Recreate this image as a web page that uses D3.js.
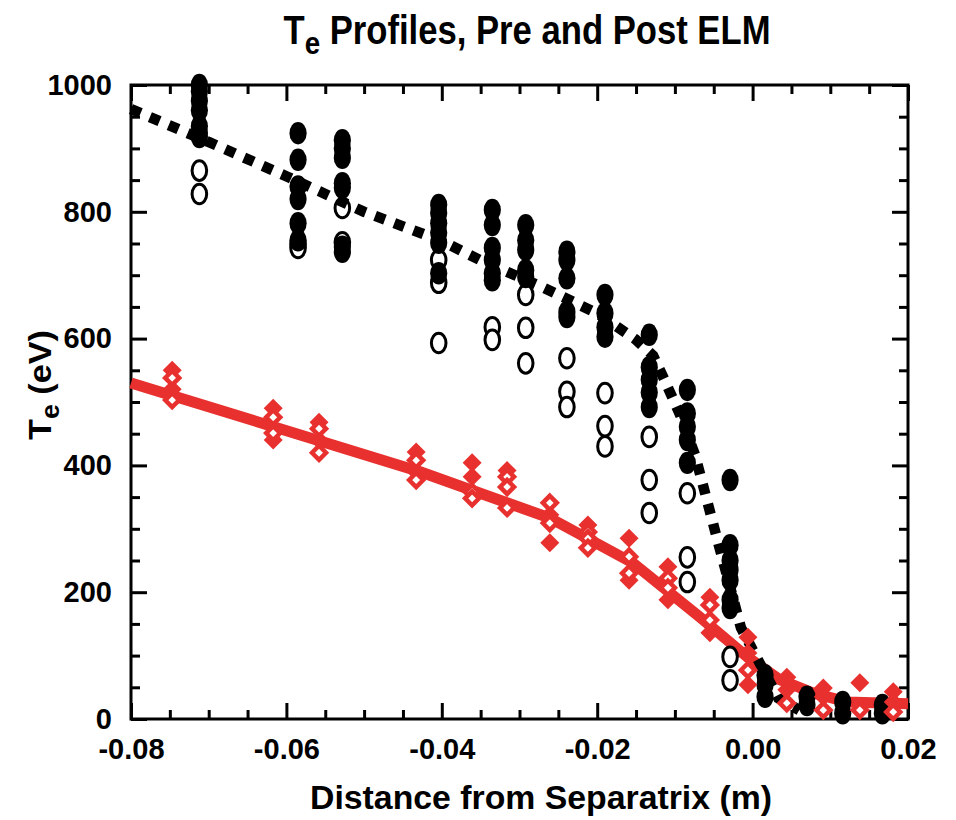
<!DOCTYPE html>
<html><head><meta charset="utf-8">
<script src="https://cdn.jsdelivr.net/npm/d3@7"></script>
<style>body{margin:0;background:#fff}text{font-family:"Liberation Sans",Arial,Helvetica,sans-serif;font-weight:bold}</style>
</head><body>
<svg id="c" width="956" height="820"></svg>
<script>
// ---- data ----
const xTicks = [-0.08,-0.06,-0.04,-0.02,0.00,0.02];
const xTickLabels = ["-0.08","-0.06","-0.04","-0.02","0.00","0.02"];
const yTicks = [0,200,400,600,800,1000];
const yTickLabels = ["0","200","400","600","800","1000"];

// pre-ELM (black) columns
const preX = [-0.0712,-0.0585,-0.0528,-0.0404,-0.0335,-0.0292,-0.0239,-0.0190,-0.0133,-0.0084,-0.0029,0.0016,0.0070,0.0116,0.0167];
const preFilled = [
  [1000,990,975,960,935,925,918],
  [924,882,840,820,782,755],
  [913,900,885,845,838,745,737],
  [811,798,782,767,751,703],
  [803,779,743,724,703,692],
  [779,755,740,708,697],
  [737,724,695,642,634],
  [669,640,618,603],
  [606,555,535,515,492],
  [519,482,461,440,404],
  [377,274,250,235,219,188,175],
  [69,54,35],
  [35,22],
  [27,9],
  [22,9]
];
const preOpen = [
  [865,828],
  [750,743],
  [806,752],
  [724,688,593],
  [618,598],
  [669,617,561],
  [569,516,492],
  [514,462,430],
  [445,377,325],
  [356,255,216],
  [98,61],
  [],[],[],[]
];
// pre-ELM fit (dashed black)
const preFitX = [-0.0800,-0.0698,-0.0598,-0.0500,-0.0400,-0.0351,-0.0274,-0.0200,-0.0151,-0.0128,-0.0115,-0.0093,-0.0074,-0.0048,-0.0015,0.0033,0.0060];
const preFitT = [962,909,855,800,754,724,683,640,599,573,539,479,416,295,144,33,14];

// post-ELM (red) columns
const postX = [-0.0747,-0.0617,-0.0558,-0.0433,-0.0361,-0.0316,-0.0261,-0.0212,-0.0159,-0.0109,-0.0055,-0.0006,0.0044,0.0091,0.0138,0.0181];
const postFilled = [
  [550,520],[490,440],[468,440],[421,390],[404,382],[392],[322,278],[306],[285,219],[240,188],[192,136],[129,104,54],[66,46],[49,35],[57],[43,27]
];
const postOpen = [
  [538,503],[476,451],[458,420],[408,377],[358,348],[382,366,333],[341,309],[295,285,270],[256,230],[222,207],[180,156],[77],[25],[14],[14],[11]
];
// post-ELM fit (solid red)
const postFitX = [-0.0800,-0.0428,-0.0261,-0.0154,-0.0068,-0.0007,0.0035,0.0078,0.0121,0.0200];
const postFitT = [530,390,317,246,161,98,62,41,27,24];

// ---- layout ----
const M = {l:131, t:85, r:908, b:719};
const RED = "#e8312f";
const svg = d3.select("#c");
const x = d3.scaleLinear().domain([-0.08,0.02]).range([M.l,M.r]);
const y = d3.scaleLinear().domain([0,1000]).range([M.b,M.t]);

const xMinor = d3.range(0,21).map(i=>-0.08+i*0.005).filter(v=>!xTicks.some(t=>Math.abs(t-v)<1e-9));
const yMinor = d3.range(0,21).map(i=>i*50).filter(v=>v%200!==0);

function styleAxis(g){
  g.select(".domain").remove();
  g.selectAll(".tick line").attr("stroke","#000").attr("stroke-width",3);
  g.selectAll(".tick text").attr("font-size",29).attr("fill","#000").style("font-weight","bold");
}
// bottom
svg.append("g").attr("transform",`translate(0,${M.b})`)
  .call(d3.axisBottom(x).tickValues(xTicks).tickSize(-16).tickPadding(19).tickFormat((d,i)=>xTickLabels[i])).call(styleAxis);
svg.append("g").attr("transform",`translate(0,${M.b})`)
  .call(d3.axisBottom(x).tickValues(xMinor).tickSize(-9).tickFormat("")).call(styleAxis);
// top
svg.append("g").attr("transform",`translate(0,${M.t})`)
  .call(d3.axisTop(x).tickValues(xTicks).tickSize(-16).tickFormat("")).call(styleAxis);
svg.append("g").attr("transform",`translate(0,${M.t})`)
  .call(d3.axisTop(x).tickValues(xMinor).tickSize(-9).tickFormat("")).call(styleAxis);
// left
svg.append("g").attr("transform",`translate(${M.l},0)`)
  .call(d3.axisLeft(y).tickValues(yTicks).tickSize(-16).tickPadding(19).tickFormat((d,i)=>yTickLabels[i])).call(styleAxis);
svg.append("g").attr("transform",`translate(${M.l},0)`)
  .call(d3.axisLeft(y).tickValues(yMinor).tickSize(-9).tickFormat("")).call(styleAxis);
// right
svg.append("g").attr("transform",`translate(${M.r},0)`)
  .call(d3.axisRight(y).tickValues(yTicks).tickSize(-16).tickFormat("")).call(styleAxis);
svg.append("g").attr("transform",`translate(${M.r},0)`)
  .call(d3.axisRight(y).tickValues(yMinor).tickSize(-9).tickFormat("")).call(styleAxis);

svg.append("rect").attr("x",M.l).attr("y",M.t).attr("width",M.r-M.l).attr("height",M.b-M.t)
  .attr("fill","none").attr("stroke","#000").attr("stroke-width",3);

const line = d3.line().x(d=>x(d[0])).y(d=>y(d[1]));

// red fit line
svg.append("path").datum(postFitX.map((v,i)=>[v,postFitT[i]]))
  .attr("d",line).attr("fill","none").attr("stroke",RED).attr("stroke-width",11).attr("stroke-linejoin","round");

// black open ellipses
const openPts=[], fillPts=[];
preX.forEach((xv,i)=>{ preOpen[i].forEach(t=>openPts.push([xv,t])); preFilled[i].forEach(t=>fillPts.push([xv,t])); });
svg.append("g").selectAll("ellipse").data(openPts).join("ellipse")
  .attr("cx",d=>x(d[0])).attr("cy",d=>y(d[1])).attr("rx",7.3).attr("ry",9.8)
  .attr("fill","#fff").attr("stroke","#000").attr("stroke-width",3);
svg.append("g").selectAll("ellipse").data(fillPts).join("ellipse")
  .attr("cx",d=>x(d[0])).attr("cy",d=>y(d[1])).attr("rx",8.6).attr("ry",11.2).attr("fill","#000");

// black dashed fit
svg.append("path").datum(preFitX.map((v,i)=>[v,preFitT[i]]))
  .attr("d",line).attr("fill","none").attr("stroke","#000").attr("stroke-width",10.5).attr("stroke-dasharray","10.5,10");

// red diamonds
const rf=[], ro=[];
postX.forEach((xv,i)=>{ postFilled[i].forEach(t=>rf.push([xv,t])); postOpen[i].forEach(t=>ro.push([xv,t])); });
const dia = s=>`M0,${-s}L${s},0L0,${s}L${-s},0Z`;
svg.append("g").selectAll("path").data(rf).join("path")
  .attr("transform",d=>`translate(${x(d[0])},${y(d[1])})`).attr("d",dia(9.5)).attr("fill",RED);
svg.append("g").selectAll("path").data(ro).join("path")
  .attr("transform",d=>`translate(${x(d[0])},${y(d[1])})`).attr("d",dia(7)).attr("fill","#fff").attr("stroke",RED).attr("stroke-width",4.5);

// titles
const title = svg.append("text").attr("x",527).attr("y",44).attr("text-anchor","middle").attr("font-size",40)
  .attr("textLength",487).attr("lengthAdjust","spacingAndGlyphs");
title.append("tspan").text("T");
title.append("tspan").attr("dy",10).attr("font-size",32).text("e");
title.append("tspan").attr("dy",-10).text(" Profiles, Pre and Post ELM");

svg.append("text").attr("x",541).attr("y",809).attr("text-anchor","middle").attr("font-size",34)
  .attr("textLength",462).attr("lengthAdjust","spacingAndGlyphs").text("Distance from Separatrix (m)");

const yt = svg.append("text").attr("transform","translate(51,385) rotate(-90)").attr("text-anchor","middle").attr("font-size",32)
  .attr("textLength",110).attr("lengthAdjust","spacingAndGlyphs");
yt.append("tspan").text("T");
yt.append("tspan").attr("dy",8).attr("font-size",25).text("e");
yt.append("tspan").attr("dy",-8).text(" (eV)");
</script>
</body></html>
